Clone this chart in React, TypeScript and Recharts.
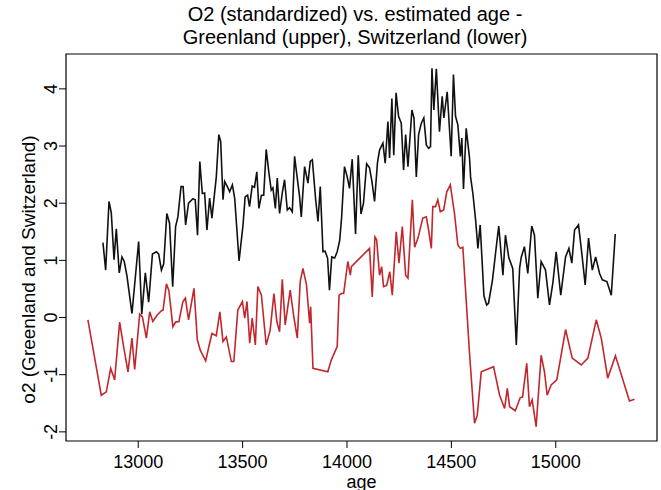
import { LineChart, Line, XAxis, YAxis, ReferenceArea } from 'recharts';

// Greenland series (upper, black)
const greenlandAge = [
  12831, 12844, 12860, 12871, 12884, 12895, 12909, 12922, 12933, 12946,
  12970, 13002, 13017, 13034, 13050, 13068, 13087, 13098, 13111, 13122,
  13137, 13150, 13165, 13179, 13190, 13205, 13215, 13227, 13241, 13262,
  13273, 13284, 13295, 13307, 13318, 13329, 13342, 13353, 13374, 13386,
  13395, 13406, 13414, 13427, 13438, 13451, 13462, 13483, 13502, 13512,
  13524, 13533, 13546, 13557, 13568, 13578, 13590, 13601, 13613, 13626,
  13637, 13645, 13657, 13666, 13677, 13690, 13701, 13714, 13725, 13738,
  13749, 13760, 13773, 13781, 13797, 13813, 13824, 13834, 13850, 13861,
  13872, 13885, 13895, 13907, 13916, 13927, 13941, 13953, 13965, 13974,
  13988, 14001, 14012, 14025, 14041, 14054, 14067, 14079, 14094, 14108,
  14120, 14132, 14146, 14156, 14172, 14183, 14196, 14204, 14215, 14224,
  14235, 14247, 14260, 14271, 14281, 14292, 14311, 14321, 14332, 14343,
  14356, 14368, 14380, 14391, 14400, 14407, 14416, 14428, 14443, 14456,
  14464, 14480, 14499, 14510, 14520, 14531, 14543, 14550, 14558, 14571,
  14587, 14592, 14603, 14616, 14627, 14638, 14656, 14669, 14678, 14697,
  14720, 14727, 14747, 14759, 14775, 14794, 14811, 14827, 14835, 14850,
  14866, 14885, 14898, 14914, 14930, 14951, 14970, 14986, 15002, 15024,
  15047, 15063, 15077, 15090, 15109, 15124, 15141, 15157, 15175, 15191,
  15210, 15223, 15245, 15266, 15285,
];
const greenlandO2 = [
  1.31, 0.83, 2.03, 1.83, 1.01, 1.55, 0.78, 1.06, 0.98, 0.73,
  0.07, 1.33, 0.06, 0.78, 0.27, 1.11, 1.15, 1.11, 0.83, 0.94,
  1.82, 1.65, 0.54, 1.59, 1.76, 2.29, 2.29, 1.62, 2.0, 2.08,
  2.06, 1.44, 2.73, 2.17, 2.18, 1.53, 2.09, 1.74, 2.46, 3.2,
  3.08, 2.06, 2.38, 2.29, 2.2, 2.32, 2.09, 0.99, 1.62, 2.11,
  2.14, 1.94, 2.3, 2.28, 2.55, 1.91, 2.14, 2.14, 2.94, 2.53,
  2.23, 2.27, 1.91, 2.44, 1.82, 2.18, 2.41, 1.88, 1.92, 1.85,
  2.82, 2.49, 2.11, 1.76, 2.64, 2.35, 2.73, 2.76, 2.06, 1.68,
  2.29, 1.15, 1.16, 1.04, 0.48, 1.06, 1.04, 1.15, 1.35, 1.74,
  2.64, 2.46, 2.26, 2.77, 1.46, 2.84, 1.81, 2.0, 2.69, 2.62,
  2.37, 2.03, 2.71, 2.93, 3.05, 2.7, 3.43, 2.79, 3.83, 2.84,
  3.93, 3.52, 3.4, 2.58, 3.2, 2.64, 3.63, 3.49, 2.46, 3.2,
  3.4, 3.49, 3.02, 2.96, 2.99, 4.36, 3.63, 4.35, 3.25, 3.87,
  3.49, 3.95, 2.82, 4.25, 3.52, 3.37, 2.82, 3.14, 2.25, 3.31,
  2.79, 2.46, 2.17, 1.71, 1.21, 1.62, 0.38, 0.22, 0.25, 0.66,
  1.39, 1.6, 0.74, 1.44, 1.05, 0.86, -0.48, 0.87, 1.06, 1.24,
  0.77, 1.6, 1.44, 0.34, 0.98, 0.83, 0.22, 0.6, 1.15, 0.39,
  1.06, 1.21, 0.95, 1.53, 1.62, 1.15, 0.57, 1.39, 0.83, 1.06,
  0.77, 0.66, 0.63, 0.39, 1.46,
];

// Switzerland series (lower, red)
const switzerlandAge = [
  12759, 12823, 12847, 12868, 12887, 12911, 12930, 12951, 12970, 12983,
  13007, 13020, 13039, 13055, 13070, 13090, 13111, 13119, 13135, 13147,
  13166, 13179, 13195, 13214, 13226, 13241, 13267, 13283, 13297, 13323,
  13342, 13353, 13374, 13391, 13406, 13422, 13446, 13458, 13477, 13499,
  13510, 13521, 13534, 13546, 13561, 13573, 13590, 13613, 13632, 13650,
  13664, 13677, 13690, 13704, 13728, 13744, 13762, 13776, 13789, 13806,
  13821, 13826, 13837, 13908, 13925, 13953, 13962, 13973, 13984, 14004,
  14016, 14021, 14108, 14121, 14134, 14142, 14156, 14166, 14175, 14190,
  14205, 14217, 14236, 14249, 14265, 14281, 14292, 14313, 14324, 14340,
  14363, 14380, 14391, 14404, 14411, 14424, 14435, 14447, 14463, 14478,
  14495, 14515, 14531, 14543, 14555, 14587, 14611, 14624, 14643, 14702,
  14731, 14755, 14768, 14779, 14806, 14830, 14841, 14861, 14874, 14887,
  14906, 14930, 14946, 14959, 14978, 15005, 15047, 15079, 15122, 15154,
  15194, 15218, 15249, 15286, 15353, 15377,
];
const switzerlandO2 = [
  -0.04, -1.36, -1.3, -0.89, -1.09, -0.08, -0.51, -0.95, -0.36, -0.91,
  0.06, 0.01, -0.36, 0.1, -0.07, 0.04, 0.12, 0.13, 0.59, 0.47,
  -0.16, -0.08, -0.07, 0.28, 0.34, -0.04, 0.51, -0.39, -0.57, -0.76,
  -0.45, -0.28, -0.32, 0.1, -0.42, -0.34, -0.77, -0.77, 0.13, 0.28,
  -0.01, 0.28, -0.45, -0.01, -0.48, 0.54, 0.39, -0.48, -0.22, 0.42,
  -0.07, -0.25, 0.67, -0.13, 0.48, 0.04, -0.36, 0.63, 0.86, 0.57,
  -0.1, 0.19, -0.89, -0.95, -0.74, -0.51, 0.39, 0.42, 0.42, 0.98,
  0.74, 0.89, 1.21, 0.36, 1.41, 1.36, 0.74, 0.89, 0.54, 0.56,
  0.8, 0.39, 1.5, 0.95, 1.59, 0.74, 0.69, 2.06, 1.23, 1.39,
  1.74, 1.76, 1.53, 1.21, 1.94, 1.94, 2.06, 1.85, 1.88, 2.2,
  2.32, 1.82, 1.27, 1.21, 1.23, -0.63, -1.85, -1.71, -0.95, -0.86,
  -1.36, -1.59, -1.24, -1.56, -1.63, -1.4, -1.39, -0.8, -1.56, -1.44,
  -1.91, -0.66, -0.95, -1.36, -1.18, -1.09, -0.21, -0.71, -0.83, -0.71,
  -0.04, -0.36, -1.06, -0.67, -1.46, -1.43,
];

const ageTicks = [13000, 13500, 14000, 14500, 15000];
const o2Ticks = [-2, -1, 0, 1, 2, 3, 4];
const ageDomain = [12654, 15485];
const o2Domain = [-2.16, 4.61];

const greenlandData = greenlandAge.map((age, i) => ({ age, o2: greenlandO2[i] }));
const switzerlandData = switzerlandAge.map((age, i) => ({ age, o2: switzerlandO2[i] }));

const FONT = '"Liberation Sans", Arial, Helvetica, sans-serif';

// R style: y tick labels run vertically
const RotatedTick = (props: any) => {
  const { x, y, payload } = props;
  return (
    <text
      x={x}
      y={y}
      transform={`rotate(-90, ${x}, ${y})`}
      textAnchor="middle"
      fill="#000"
      fontSize={18}
      fontFamily={FONT}
    >
      {payload.value}
    </text>
  );
};

export default function App() {
  return (
    <div style={{ position: 'absolute', left: 0, top: 0, width: 661, height: 490, background: '#fff', fontFamily: FONT }}>
      <div style={{ position: 'absolute', left: 0, width: 710, top: 3, textAlign: 'center', fontSize: 20, lineHeight: '22px', color: '#000' }}>
        O2 (standardized) vs. estimated age -
      </div>
      <div style={{ position: 'absolute', left: 0, width: 710, top: 26, textAlign: 'center', fontSize: 20, lineHeight: '22px', color: '#000' }}>
        Greenland (upper), Switzerland (lower)
      </div>
      <LineChart width={661} height={490} margin={{ top: 54, right: 4, bottom: 0, left: 0 }}>
        <XAxis
          type="number"
          dataKey="age"
          domain={ageDomain}
          ticks={ageTicks}
          allowDataOverflow
          axisLine={false}
          tickLine={{ stroke: '#000' }}
          tickSize={7}
          tickMargin={7}
          height={49}
          tick={{ fill: '#000', fontSize: 18, fontFamily: FONT }}
          label={{ value: 'age', position: 'insideBottom', offset: 2, fill: '#000', fontSize: 18, fontFamily: FONT }}
        />
        <YAxis
          type="number"
          dataKey="o2"
          domain={o2Domain}
          ticks={o2Ticks}
          allowDataOverflow
          axisLine={false}
          tickLine={{ stroke: '#000' }}
          tickSize={7}
          width={66}
          tick={<RotatedTick />}
          label={{
            value: 'o2 (Greenland and Switzerland)',
            angle: -90,
            position: 'center',
            dx: -5,
            dy: 22,
            fill: '#000',
            fontSize: 19,
            fontFamily: FONT,
          }}
        />
        <Line
          data={switzerlandData}
          dataKey="o2"
          type="linear"
          stroke="#c1272d"
          strokeWidth={1.6}
          dot={false}
          isAnimationActive={false}
        />
        <Line
          data={greenlandData}
          dataKey="o2"
          type="linear"
          stroke="#111"
          strokeWidth={1.6}
          dot={false}
          isAnimationActive={false}
        />
        <ReferenceArea
          x1={ageDomain[0]}
          x2={ageDomain[1]}
          y1={o2Domain[0]}
          y2={o2Domain[1]}
          fill="none"
          stroke="#000"
          strokeWidth={1.2}
          ifOverflow="visible"
        />
      </LineChart>
    </div>
  );
}
